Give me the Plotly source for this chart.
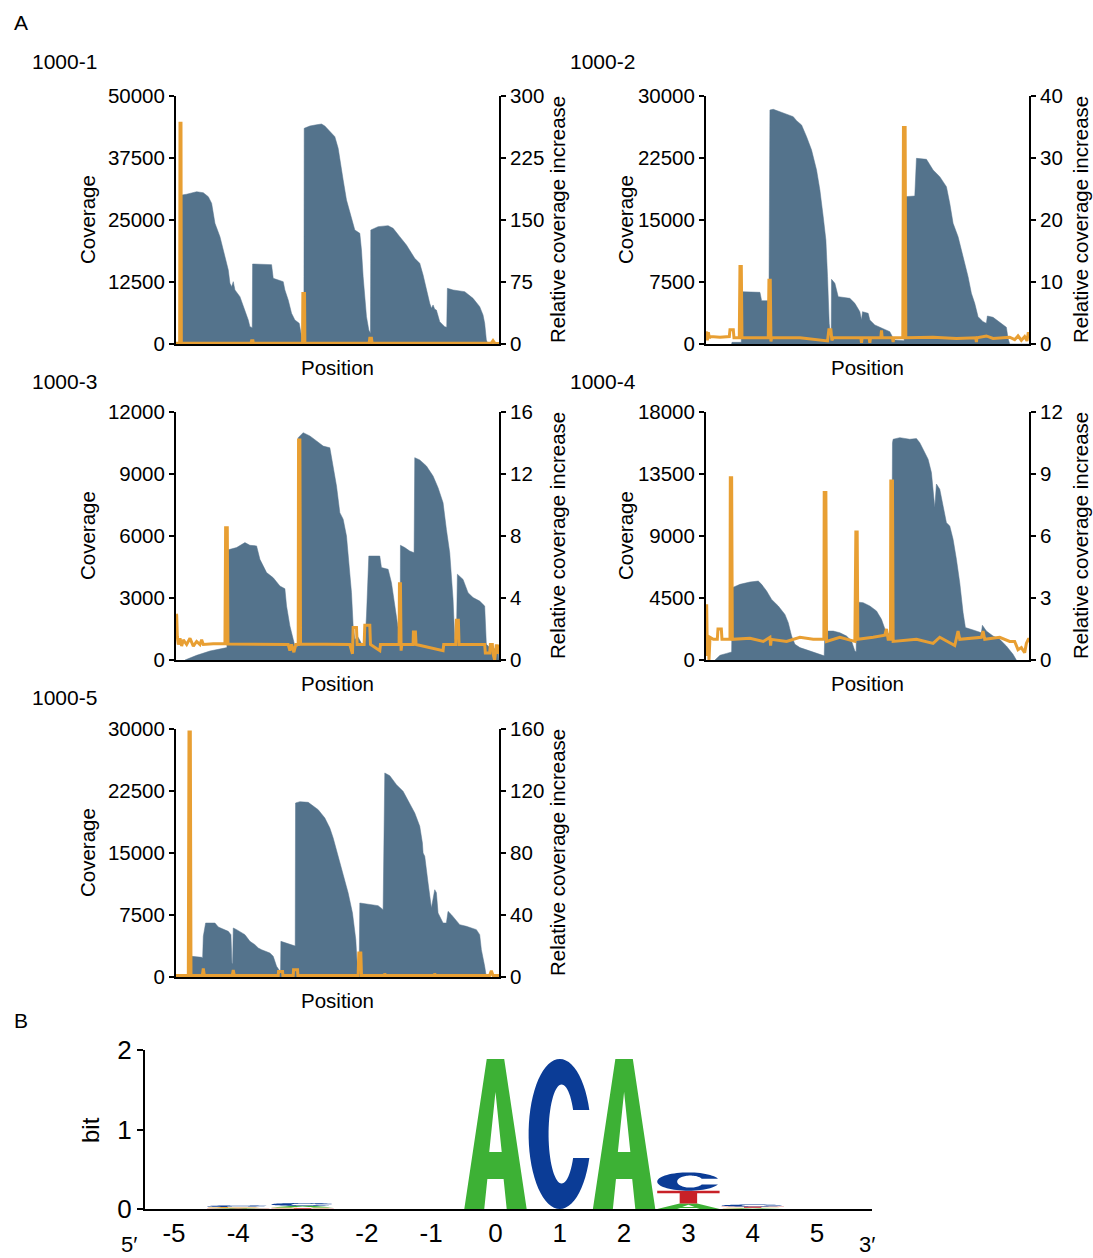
import numpy as np
import plotly.graph_objects as go

W, H = 1093, 1258
FONT = "Liberation Sans, Arial, sans-serif"
NARROW = "Liberation Sans Narrow, Arial Narrow, Liberation Sans, sans-serif"
BLUE = "#54738c"
ORANGE = "#e89f33"
FS = 20.5

# ---------------- Panel A data ----------------
p1_cov_pos = [35, 36, 50, 65, 80, 100, 115, 125, 135, 150, 160, 175, 180, 185, 190, 195, 210, 225, 235, 240, 245, 247,
              248, 305, 310, 340, 345, 355, 365, 375, 388, 395, 400, 402,
              403, 420, 440, 455, 465, 480, 495, 505, 515, 520, 530, 545, 555, 570, 575, 580, 585, 590, 597, 600, 602,
              603, 615, 625, 655, 670, 690, 710, 735, 750, 760, 770, 780, 785, 790, 795, 800, 810, 825, 831,
              833, 850, 885, 910, 930, 940, 945, 950, 955, 988]
p1_cov = [0, 30040, 30200, 30500, 30700, 30500, 29700, 28360, 24330, 21640, 18950, 14920, 12230, 11560, 12570, 10900, 9540, 6850, 4840, 3500, 3360, 3300,
          16130, 16000, 13240, 12570, 10890, 8870, 6180, 4840, 4170, 1480, 470, 400,
          43480, 43950, 44200, 44350, 43950, 42810, 41800, 39450, 35750, 33060, 29030, 25670, 22980, 22310, 18950, 13580, 9540, 5510, 2820, 2150, 2100,
          22980, 23320, 23660, 23860, 23320, 21640, 19960, 17270, 16260, 13910, 10890, 8200, 7200, 7870, 7000, 6850, 4500, 3500, 3360,
          11220, 10890, 10550, 9200, 7530, 5850, 4170, 800, 0, 0]
p1_rel_pos = [18, 29, 30, 33, 34, 243, 245, 249, 250, 398, 399, 404, 405, 598, 600, 605, 607, 965, 970, 975, 988]
p1_rel = [1, 1, 267, 267, 1, 1, 4, 4, 1, 1, 61, 61, 1, 1, 7, 7, 1, 1, 4, 1, 0.5]

p2_cov_pos = [95, 96, 124, 125, 180, 185, 207, 210, 220, 240, 260, 280, 290, 305, 320, 335, 350, 360, 370, 378, 383, 388, 392, 394,
              395, 405, 415, 450, 465, 480, 485, 488, 505, 510, 525, 540, 545, 570, 580, 585, 613,
              615, 645, 650, 680, 700, 720, 740, 750, 760, 775, 790, 805, 815, 825, 835, 850, 860, 863, 880, 905, 920, 925, 930, 988]
p2_cov = [0, 200, 200, 6330, 6250, 5240, 5240, 28310, 28390, 28100, 27820, 27500, 27020, 26490, 25080, 23470, 21050, 18630, 15400, 12580, 8150, 2500, 900, 880,
          7820, 7340, 5730, 5520, 4920, 3910, 2900, 3910, 3710, 2900, 2300, 2020, 1900, 1490, 690, 480, 400,
          17820, 17900, 22460, 22340, 21050, 20240, 19030, 17020, 14600, 12980, 10560, 8150, 6130, 4920, 3310, 2700, 2500, 3390, 3230, 2500, 2020, 690, 0, 0]
p2_rel_pos = [18, 20, 22, 25, 28, 32, 60, 88, 90, 100, 102, 118, 120, 124, 126, 205, 207, 211, 213, 215, 300, 383, 387, 393, 396, 400,
              483, 485, 487, 508, 510, 512, 543, 545, 547, 578, 580, 582, 609, 611, 616, 618, 700, 770, 828, 830, 832, 860, 880,
              930, 945, 955, 965, 975, 982, 986, 988]
p2_rel = [1.6, 2.0, 0.6, 1.9, 1.0, 1.2, 1.1, 1.2, 2.3, 2.3, 1.0, 1.0, 12.5, 12.5, 1.0, 1.0, 10.3, 10.3, 0.4, 1.0, 1.0, 0.5, 2.3, 2.3, 0.6, 1.0,
          1.0, 0.2, 1.0, 1.0, 0.2, 1.0, 1.0, 2.2, 1.0, 1.0, 0.3, 1.0, 1.0, 34.9, 34.9, 1.0, 1.1, 0.9, 1.0, 0.3, 1.0, 1.3, 0.9,
          1.1, 0.7, 1.3, 0.6, 1.2, 0.5, 1.9, 1.0]

p3_cov_pos = [45, 80, 120, 160, 171, 172, 200, 225, 240, 260, 270, 290, 310, 330, 345, 350, 360, 370, 375, 384,
              385, 400, 420, 440, 460, 480, 490, 500, 510, 520, 530, 540, 545, 550, 555, 565, 575, 585,
              590, 597, 630, 635, 655, 665, 675, 685, 690, 691,
              692, 705, 720, 733, 735, 750, 770, 790, 805, 820, 830, 840, 850, 855, 860,
              863, 880, 895, 910, 930, 945, 950, 960, 985, 988]
p3_cov = [0, 225, 435, 580, 600, 5320, 5440, 5680, 5550, 5520, 4870, 4230, 3980, 3580, 3450, 2610, 1650, 1000, 680, 650,
          10760, 11000, 10840, 10600, 10350, 10270, 9390, 8420, 7130, 6810, 6000, 4390, 3260, 1650, 1000, 1100, 800, 700,
          2130, 5030, 5030, 4470, 4390, 3740, 2610, 1650, 1000, 900,
          5550, 5440, 5270, 5190, 9790, 9680, 9390, 8900, 8340, 7610, 6320, 5190, 2940, 1000, 900,
          4150, 3900, 3260, 3020, 2850, 2610, 760, 600, 500, 0]
p3_rel_pos = [18, 20, 22, 25, 30, 35, 40, 50, 60, 70, 80, 90, 95, 100, 130, 165, 167, 172, 174, 355, 360, 365, 372, 378, 385, 386, 390, 392,
              540, 548, 550, 560, 562, 583, 585, 600, 602, 630, 632, 688, 689, 692, 694, 696, 730, 731, 737, 739, 820, 822,
              858, 860, 866, 868, 945, 947, 960, 962, 968, 970, 975, 980, 985, 988]
p3_rel = [2.95, 2.9, 1.5, 1.0, 1.4, 0.9, 1.3, 1.0, 1.4, 0.9, 1.2, 1.0, 1.3, 1.0, 1.05, 1.05, 8.54, 8.54, 1.03, 1.0, 0.6, 1.0, 0.5, 1.0, 1.0, 14.2, 14.2, 1.03,
          1.0, 0.4, 2.09, 2.09, 1.0, 1.0, 2.24, 2.24, 1.0, 0.6, 1.0, 1.0, 4.92, 4.92, 0.6, 1.0, 1.0, 1.8, 1.8, 1.0, 0.6, 1.0,
          1.0, 2.56, 2.56, 1.0, 1.0, 0.45, 0.45, 1.0, 1.0, 0.4, 0.0, 1.0, 0.4, 1.0]

p4_cov_pos = [45, 60, 80, 95, 97, 120, 150, 175, 185, 200, 215, 235, 255, 265, 275, 285, 300, 330, 355, 373,
              375, 400, 420, 440, 455, 465, 469, 470, 490, 510, 530, 545, 555, 565, 575,
              578, 580, 600, 630, 650, 660, 670, 685, 695, 700, 705, 710, 720, 730, 740, 750, 760, 770, 780, 790, 797,
              820, 840, 845, 848, 860, 880, 900, 920, 940, 950]
p4_cov = [0, 340, 480, 580, 5250, 5490, 5660, 5730, 5490, 5010, 4400, 3920, 3310, 2710, 1740, 1140, 900, 650, 410, 300,
          2100, 2100, 1980, 1740, 1380, 650, 600, 4210, 4160, 3920, 3560, 2950, 2270, 1980, 1620,
          15770, 16020, 16140, 16020, 16070, 15770, 15290, 14570, 13600, 12140, 11060, 12770, 12400, 11180, 9970, 9730, 8760, 7310, 5610, 3440, 2350,
          2180, 1980, 1980, 2520, 2100, 1740, 1500, 1020, 410, 0]
p4_rel_pos = [18, 20, 22, 24, 27, 30, 40, 52, 54, 64, 66, 90, 91, 95, 97, 150, 190, 210, 212, 214, 260, 300, 340, 372, 373, 378, 380,
              420, 465, 468, 472, 474, 520, 555, 560, 565, 572, 573, 578, 580, 650, 700, 720, 765, 775, 780, 845, 850, 855,
              900, 930, 945, 955, 965, 975, 980, 986, 988]
p4_rel = [1.0, 2.7, 0.2, 1.2, 0.0, 1.1, 1.0, 1.0, 1.5, 1.5, 1.0, 1.0, 8.82, 8.82, 1.0, 1.05, 0.9, 1.1, 0.7, 1.0, 0.9, 1.1, 1.0, 1.0, 8.1, 8.1, 0.9,
          1.1, 0.9, 6.19, 6.19, 1.0, 1.1, 1.2, 1.5, 1.0, 1.0, 8.66, 8.66, 0.9, 1.0, 0.8, 1.1, 0.7, 1.4, 1.0, 1.1, 1.4, 1.0,
          1.1, 0.9, 0.9, 0.5, 0.6, 0.35, 0.8, 1.0, 1.0]

p5_cov_pos = [64, 65, 95, 98, 100, 107, 135, 145, 175, 183, 186, 188,
              190, 200, 225, 240, 255, 265, 275, 300, 310, 320, 330, 332,
              333, 350, 372, 376,
              377, 390, 415, 425, 445, 465, 480, 490, 505, 520, 535, 548, 558, 563, 568,
              570, 600, 625, 640,
              645, 660, 680, 700, 720, 735, 750, 758, 760, 765, 775, 785, 795, 800, 805, 820, 830, 835, 845, 870, 890, 920, 930, 935, 945, 950]
p5_cov = [0, 2500, 2380, 2300, 4920, 6530, 6530, 6050, 5520, 5120, 1690, 1600,
          5930, 5730, 5120, 4310, 3910, 3510, 3300, 2900, 2500, 1290, 700, 600,
          4310, 4100, 3790, 3750,
          21050, 21210, 21130, 20850, 20240, 19230, 18020, 16820, 14600, 12580, 10160, 7740, 4520, 900, 800,
          8950, 8750, 8630, 8150,
          24680, 24350, 23270, 22460, 21050, 19840, 18230, 16210, 15000, 14600, 11370, 8350, 10560, 10200, 7740, 6530, 6530, 7940, 7540, 6330, 6130, 5730, 5120, 3310, 1290, 0]
p5_rel_pos = [18, 55, 57, 61, 63, 97, 100, 103, 187, 190, 193, 325, 326, 338, 339, 370, 371, 383, 384,
              565, 567, 573, 575, 643, 645, 648, 793, 795, 798, 960, 965, 970, 988]
p5_rel = [1.0, 1.0, 158, 158, 1.0, 1.0, 5.5, 1.0, 1.0, 4.5, 1.0, 1.0, 3.5, 3.5, 1.0, 1.0, 4.7, 4.7, 1.0,
          1.0, 15.5, 15.5, 1.0, 1.0, 2.0, 1.0, 1.0, 2.0, 1.0, 1.0, 4.0, 1.0, 1.0]

panel_names = ["1000-1", "1000-2", "1000-3", "1000-4", "1000-5"]
cov_pos = [p1_cov_pos, p2_cov_pos, p3_cov_pos, p4_cov_pos, p5_cov_pos]
cov_vals = [p1_cov, p2_cov, p3_cov, p4_cov, p5_cov]
rel_pos = [p1_rel_pos, p2_rel_pos, p3_rel_pos, p4_rel_pos, p5_rel_pos]
rel_vals = [p1_rel, p2_rel, p3_rel, p4_rel, p5_rel]
left_ticks = [[0, 12500, 25000, 37500, 50000], [0, 7500, 15000, 22500, 30000], [0, 3000, 6000, 9000, 12000],
              [0, 4500, 9000, 13500, 18000], [0, 7500, 15000, 22500, 30000]]
right_ticks = [[0, 75, 150, 225, 300], [0, 10, 20, 30, 40], [0, 4, 8, 12, 16], [0, 3, 6, 9, 12], [0, 40, 80, 120, 160]]

# ---------------- Panel B data (sequence logo) ----------------
logo_positions = [-5, -4, -3, -2, -1, 0, 1, 2, 3, 4, 5]
bits_A = [0, 0.008, 0.02, 0, 0, 1.887, 0, 1.887, 0.07, 0.008, 0]
bits_C = [0, 0.02, 0.035, 0, 0, 0, 1.887, 0, 0.23, 0.025, 0]
bits_G = [0, 0.012, 0.012, 0, 0, 0, 0, 0, 0, 0.008, 0]
bits_T = [0, 0.005, 0.008, 0, 0, 0, 0, 0, 0.16, 0.015, 0]

# ---------------- layout geometry (pixels) ----------------
dom_x = [(176, 499), (706, 1029), (176, 499), (706, 1029), (176, 499)]
dom_y = [(96, 344), (96, 344), (412, 660), (412, 660), (729, 977)]
cov_title_x = [87, 625, 87, 625, 87]
rel_title_x = [557, 1080, 557, 1080, 557]
name_x = [30, 568, 30, 568, 30]
name_y = [62, 62, 381, 381, 698]


def fx(x):
    return x / W


def fy(y):
    return 1 - y / H


def an(n):
    return "" if n == 1 else str(n)


fig = go.Figure()
layout = {}
annotations = []

for i in range(5):
    k = i + 1
    xa, yl, yr = k, 2 * k - 1, 2 * k
    fig.add_trace(go.Scatter(x=cov_pos[i], y=cov_vals[i], mode="lines", fill="tozeroy",
                             line=dict(color=BLUE, width=0.5), fillcolor=BLUE,
                             xaxis="x" + an(xa), yaxis="y" + an(yl), hoverinfo="skip"))
    fig.add_trace(go.Scatter(x=rel_pos[i], y=rel_vals[i], mode="lines",
                             line=dict(color=ORANGE, width=3),
                             xaxis="x" + an(xa), yaxis="y" + an(yr), hoverinfo="skip"))
    x0, x1 = dom_x[i]
    y0, y1 = dom_y[i]
    layout["xaxis" + an(xa)] = dict(domain=[fx(x0), fx(x1)], range=[18, 988], anchor="y" + an(yl),
                                    showline=True, linecolor="black", linewidth=2, ticks="",
                                    showticklabels=False, showgrid=False, zeroline=False, automargin=False)
    lt = left_ticks[i]
    rt = right_ticks[i]
    common = dict(showline=True, linecolor="black", linewidth=2, ticks="outside", ticklen=5,
                  tickwidth=2, tickcolor="black", showgrid=False, zeroline=False, automargin=False,
                  tickfont=dict(family=FONT, size=FS, color="black"))
    layout["yaxis" + an(yl)] = dict(domain=[fy(y1), fy(y0)], range=[0, lt[-1]], anchor="x" + an(xa),
                                    tickvals=lt, ticktext=[str(v) for v in lt], **common)
    layout["yaxis" + an(yr)] = dict(domain=[fy(y1), fy(y0)], range=[0, rt[-1]], anchor="x" + an(xa),
                                    overlaying="y" + an(yl), side="right",
                                    tickvals=rt, ticktext=[str(v) for v in rt], **common)
    cy = (y0 + y1) / 2
    annotations += [
        dict(text=panel_names[i], x=fx(name_x[i]), y=fy(name_y[i]), xanchor="left", yanchor="middle",
             font=dict(family=FONT, size=21, color="black")),
        dict(text="Coverage", x=fx(cov_title_x[i]), y=fy(cy), textangle=-90, xanchor="center", yanchor="middle",
             font=dict(family=FONT, size=FS, color="black")),
        dict(text="Relative coverage increase", x=fx(rel_title_x[i]), y=fy(cy), textangle=-90,
             xanchor="center", yanchor="middle", font=dict(family=FONT, size=FS, color="black")),
        dict(text="Position", x=fx((x0 + x1) / 2), y=fy(y1 + 23), xanchor="center", yanchor="middle",
             font=dict(family=FONT, size=FS, color="black")),
    ]

# ---- logo axes ----
layout["xaxis6"] = dict(domain=[fx(145), fx(872)], range=[-5.45, 5.855], anchor="y11",
                        showline=True, linecolor="black", linewidth=2, ticks="",
                        tickvals=logo_positions, ticktext=[str(p) for p in logo_positions],
                        tickfont=dict(family=NARROW, size=26, color="black"),
                        showgrid=False, zeroline=False, automargin=False)
layout["yaxis11"] = dict(domain=[fy(1209), fy(1050)], range=[0, 2], anchor="x6",
                         showline=True, linecolor="black", linewidth=2, ticks="outside", ticklen=6,
                         tickwidth=2, tickcolor="black", tickvals=[0, 1, 2], ticktext=["0", "1", "2"],
                         tickfont=dict(family=NARROW, size=26, color="black"),
                         showgrid=False, zeroline=False, automargin=False)
fig.add_trace(go.Scatter(x=[logo_positions[0]], y=[0], mode="markers", marker=dict(opacity=0),
                         xaxis="x6", yaxis="y11", hoverinfo="skip"))

# glyph outlines in a unit box
A_OUT = [(0, 0), (0.36, 1), (0.64, 1), (1, 0), (0.68, 0), (0.63, 0.2), (0.37, 0.2), (0.32, 0)]
A_HOLE = [(0.40, 0.38), (0.60, 0.38), (0.5, 0.78)]
T_OUT = [(0, 1), (1, 1), (1, 0.8), (0.64, 0.8), (0.64, 0), (0.36, 0), (0.36, 0.8), (0, 0.8)]


def c_outline():
    t_out = np.radians(np.linspace(18.7, 341.3, 60))
    outer = [(0.5 + 0.5 * np.cos(t), 0.5 + 0.5 * np.sin(t)) for t in t_out]
    t_in = np.radians(np.linspace(331, 29, 60))
    inner = [(0.53 + 0.21 * np.cos(t), 0.5 + 0.33 * np.sin(t)) for t in t_in]
    return outer + inner


C_OUT = c_outline()
G_OUT = C_OUT
GLYPHS = {"A": [A_OUT, A_HOLE], "C": [C_OUT], "G": [G_OUT], "T": [T_OUT]}
COLORS = {"A": "#3db135", "C": "#0b3c96", "G": "#f2a93b", "T": "#c82128"}
LETTER_W = 0.97

shapes = []
bits = {"A": bits_A, "C": bits_C, "G": bits_G, "T": bits_T}
for j, p in enumerate(logo_positions):
    stack = sorted([(bits[L][j], L) for L in "ACGT" if bits[L][j] > 0])
    base = 0.0
    for h, L in stack:
        d = ""
        for poly in GLYPHS[L]:
            pts = [(p - LETTER_W / 2 + gx * LETTER_W, base + gy * h) for gx, gy in poly]
            d += "M" + " L".join(f"{x:.4f},{y:.5f}" for x, y in pts) + " Z "
        shapes.append(dict(type="path", path=d, xref="x6", yref="y11", fillcolor=COLORS[L],
                           line=dict(width=0), layer="above"))
        base += h

annotations += [
    dict(text="bit", x=fx(90), y=fy(1130), textangle=-90, xanchor="center", yanchor="middle",
         font=dict(family=FONT, size=24, color="black")),
    dict(text="5′", x=fx(129), y=fy(1244), xanchor="center", yanchor="middle",
         font=dict(family=NARROW, size=22, color="black")),
    dict(text="3′", x=fx(867), y=fy(1244), xanchor="center", yanchor="middle",
         font=dict(family=NARROW, size=22, color="black")),
    dict(text="A", x=fx(12), y=fy(22), xanchor="left", yanchor="middle",
         font=dict(family=FONT, size=21, color="black")),
    dict(text="B", x=fx(12), y=fy(1020), xanchor="left", yanchor="middle",
         font=dict(family=FONT, size=21, color="black")),
]
for a in annotations:
    a.update(xref="paper", yref="paper", showarrow=False)

fig.update_layout(width=W, height=H, autosize=False, margin=dict(l=0, r=0, t=0, b=0, pad=0),
                  paper_bgcolor="white", plot_bgcolor="white", showlegend=False,
                  annotations=annotations, shapes=shapes, **layout)
fig.write_html("out.html")
